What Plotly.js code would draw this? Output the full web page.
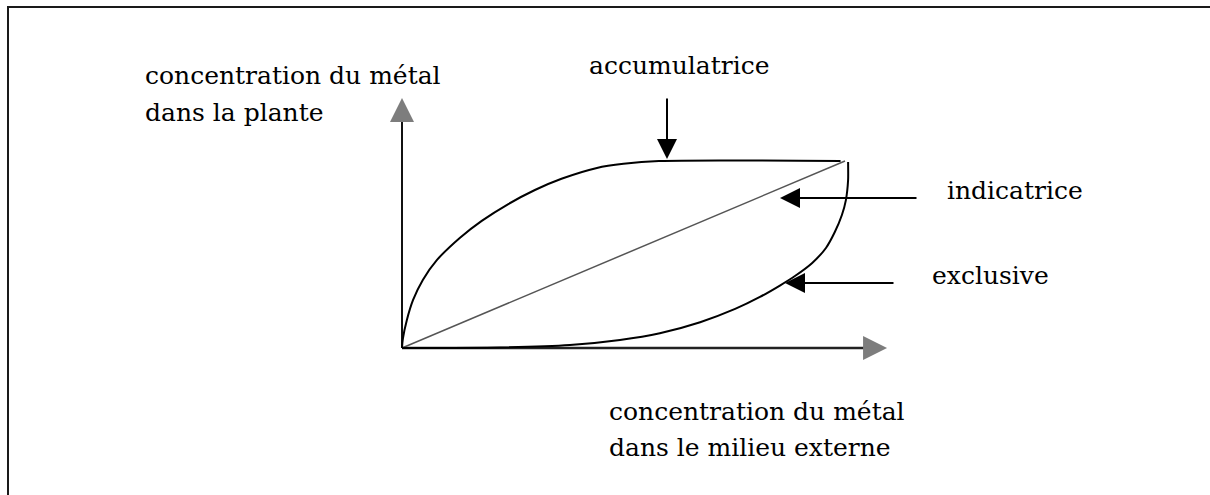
<!DOCTYPE html>
<html><head><meta charset="utf-8">
<script src="https://cdn.plot.ly/plotly-3.0.1.min.js"></script>
<style>
html,body{margin:0;padding:0;background:#fff;}
#wrap{position:relative;width:1210px;height:495px;overflow:hidden;}
#chart{width:1210px;height:495px;}
#frame{position:absolute;left:7px;top:6px;right:-10px;bottom:-10px;border-top:2px solid #1a1a1a;border-left:2px solid #1a1a1a;pointer-events:none;}
</style></head><body>
<div id="wrap"><div id="chart"></div><div id="frame"></div></div>
<script>
// ---- data (schematic units: 1 = end of curves) ----
const accumX = [0, 0.002, 0.011, 0.025, 0.047, 0.079, 0.131, 0.18, 0.24, 0.30, 0.36, 0.44, 0.50, 0.58, 0.99];
const accumY = [0, 0.05, 0.15, 0.257, 0.364, 0.471, 0.59, 0.68, 0.77, 0.845, 0.905, 0.963, 0.985, 1.0, 1.0];
const indicX = [0, 1.0];
const indicY = [0, 1.0];
const exclX = [1.007, 1.007, 1.002, 0.993, 0.977, 0.957, 0.926, 0.887, 0.853, 0.808, 0.752, 0.673, 0.582, 0.492, 0.379, 0.221, 0];
const exclY = [0.995, 0.898, 0.791, 0.711, 0.620, 0.535, 0.455, 0.385, 0.334, 0.273, 0.209, 0.138, 0.079, 0.043, 0.016, 0.003, 0];
const xAxisEnd = 1.095;
const yAxisEnd = 1.337;
const labelYAxis = ["concentration du métal", "dans la plante"];
const labelXAxis = ["concentration du métal", "dans le milieu externe"];
const curveNames = ["accumulatrice", "indicatrice", "exclusive"];

// ---- pixel <-> data mapping (layout only) ----
const W = 1210, H = 495;
const ox = 402, oy = 348, sx = 443, sy = 187;
const pl = 380, pr = 910, pt = 80, pb = 370;
const X = p => (p - ox) / sx;
const Y = p => (oy - p) / sy;
const PX = p => (p - pl) / (pr - pl);
const PY = p => (pb - p) / (pb - pt);

const FONT = {family: "DejaVu Serif, Liberation Serif, serif", size: 25, color: "#000"};

const traces = [
  {x: [0, 0], y: [0, yAxisEnd - 0.1], mode: "lines", line: {color: "#111", width: 2}, hoverinfo: "skip"},
  {x: [0, xAxisEnd - 0.04], y: [0, 0], mode: "lines", line: {color: "#222", width: 2.5}, hoverinfo: "skip"},
  {x: [0], y: [yAxisEnd], mode: "markers", marker: {symbol: "arrow-up", size: 24, color: "#7d7d7d"}, cliponaxis: false, hoverinfo: "skip"},
  {x: [xAxisEnd], y: [0], mode: "markers", marker: {symbol: "arrow-right", size: 24, color: "#7d7d7d"}, cliponaxis: false, hoverinfo: "skip"},
  {name: curveNames[1], x: indicX, y: indicY, mode: "lines", line: {color: "#555", width: 1.5}},
  {name: curveNames[0], x: accumX, y: accumY, mode: "lines", line: {color: "#000", width: 2, shape: "spline", smoothing: 0.8}},
  {name: curveNames[2], x: exclX, y: exclY, mode: "lines", line: {color: "#000", width: 2, shape: "spline", smoothing: 0.6}}
];

function txt(s, px, py) {
  return {text: s, x: PX(px), y: PY(py), xref: "paper", yref: "paper", xanchor: "left", yanchor: "middle", showarrow: false, font: FONT};
}
function arr(tipx, tipy, tailx, taily) {
  return {text: "", x: X(tipx), y: Y(tipy), ax: X(tailx), ay: Y(taily), xref: "x", yref: "y", axref: "x", ayref: "y",
          showarrow: true, arrowhead: 2, arrowsize: 2, arrowwidth: 2, arrowcolor: "#000", standoff: 0};
}

const annotations = [
  txt(labelYAxis[0], 143, 75),
  txt(labelYAxis[1], 143, 112),
  txt(labelXAxis[0], 607, 411),
  txt(labelXAxis[1], 607, 448),
  txt(curveNames[0], 587, 65),
  txt(curveNames[1], 945, 190),
  txt(curveNames[2], 930, 275),
  arr(667, 159, 667, 97),
  arr(780, 198, 918, 198),
  arr(785, 283, 895, 283)
];

const layout = {
  width: W, height: H,
  margin: {l: pl, r: W - pr, t: pt, b: H - pb, pad: 0},
  paper_bgcolor: "#fff", plot_bgcolor: "#fff",
  showlegend: false,
  xaxis: {range: [X(pl), X(pr)], visible: false, fixedrange: true},
  yaxis: {range: [Y(pb), Y(pt)], visible: false, fixedrange: true},
  annotations: annotations
};

Plotly.newPlot("chart", traces, layout, {staticPlot: true, displayModeBar: false});
</script>
</body></html>
